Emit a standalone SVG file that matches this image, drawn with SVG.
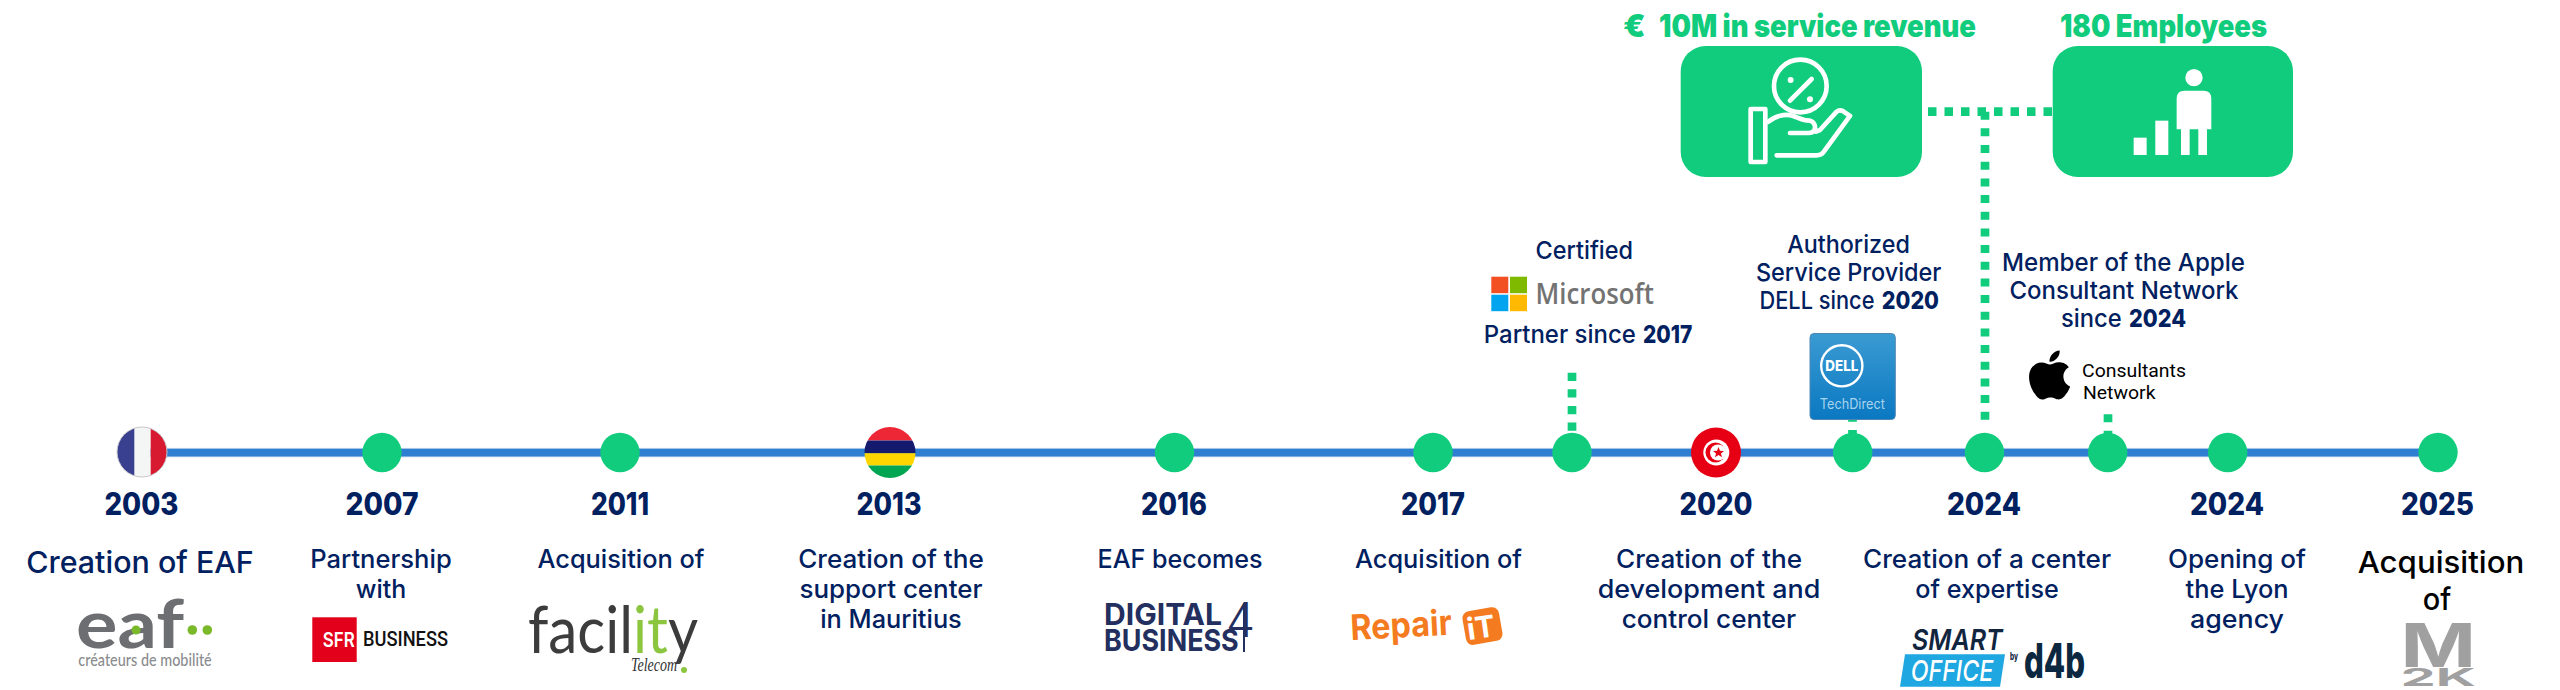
<svg xmlns="http://www.w3.org/2000/svg" width="2560" height="690" viewBox="0 0 2560 690">
<style>
text{font-family:"Inter","Noto Sans","Liberation Sans",sans-serif}
.y{font-size:31px;font-weight:800;fill:#002060;text-anchor:middle}
.d{font-size:25.5px;font-weight:500;fill:#002060;text-anchor:middle}
.s{font-size:24.5px;font-weight:500;fill:#002060}
.b{font-weight:800}
.k{font-size:30px;font-weight:500;fill:#000;text-anchor:middle}
.g{font-size:31px;font-weight:900;fill:#10cc7c}
.dot{fill:#10cc7c}
.dash{fill:none;stroke:#10cc7c;stroke-width:8.7}
.ic{fill:none;stroke:#fff;stroke-width:14;stroke-linecap:round;stroke-linejoin:round}
</style>
<defs>
<clipPath id="cf"><circle cx="142" cy="452" r="25"/></clipPath>
<clipPath id="cm"><circle cx="890" cy="452.5" r="25.5"/></clipPath>
<linearGradient id="dg" x1="0" y1="0" x2="0" y2="1"><stop offset="0" stop-color="#3b9bd2"/><stop offset="1" stop-color="#0a78c2"/></linearGradient>
</defs>
<rect width="2560" height="690" fill="#fff"/>

<g id="connectors">
<rect x="142" y="448.3" width="2296" height="8.6" fill="#2e7fd1" stroke="#bcd3ee" stroke-width="0.8"/>
<path class="dash" stroke-dasharray="8.5 8" d="M1928 111.7H2053"/>
<path class="dash" stroke-dasharray="8 8.67" d="M1985 111.7V420"/>
<path class="dash" stroke-dasharray="8.3 8.3" d="M1572 372.7V434"/>
<path class="dash" stroke-dasharray="8.3 8.3" d="M1852.5 413.4V434"/>
<path class="dash" stroke-dasharray="8 8.5" d="M2108 414.3V434"/>
</g>

<g id="e2003">
<g clip-path="url(#cf)"><rect x="115" y="425" width="20" height="54" fill="#38408f"/><rect x="134.3" y="425" width="16.4" height="54" fill="#f4f5f5"/><rect x="150.7" y="425" width="20" height="54" fill="#d71a30"/></g>
<circle cx="142" cy="452" r="25" fill="none" stroke="#c9c6cb" stroke-width="1"/>
<text class="y" x="141.5" y="514.8" textLength="74" lengthAdjust="spacingAndGlyphs">2003</text>
<text class="d" x="140" y="573" style="font-size:30px" textLength="227.6" lengthAdjust="spacingAndGlyphs">Creation of EAF</text>
<g id="logo-eaf">
<text x="76" y="648" textLength="108" lengthAdjust="spacingAndGlyphs" style="font-size:66px;font-weight:700;fill:#6d6e71;font-family:Lato,sans-serif">eaf</text>
<circle cx="136" cy="630" r="4.5" fill="#7ab929"/><circle cx="192.3" cy="630" r="4.8" fill="#7ab929"/><circle cx="207.3" cy="630" r="4.8" fill="#7ab929"/>
<text x="78.3" y="666" textLength="133.4" lengthAdjust="spacingAndGlyphs" style="font-size:18px;font-weight:500;fill:#8a8c8e;font-family:Lato,sans-serif">créateurs de mobilité</text>
</g>
</g>

<g id="e2007">
<circle class="dot" cx="382" cy="452.5" r="19.7"/>
<text class="y" x="382" y="514.8" textLength="73" lengthAdjust="spacingAndGlyphs">2007</text>
<text class="d" x="381" y="568" textLength="141.5" lengthAdjust="spacingAndGlyphs">Partnership</text>
<text class="d" x="381" y="598" textLength="50.5" lengthAdjust="spacingAndGlyphs">with</text>
<g id="logo-sfr">
<rect x="312.3" y="617.3" width="44.4" height="44.7" fill="#e2001a"/>
<text x="322.7" y="646.7" textLength="32" lengthAdjust="spacingAndGlyphs" style="font-size:20px;font-weight:600;fill:#fff">SFR</text>
<text x="363" y="646" textLength="85" lengthAdjust="spacingAndGlyphs" style="font-size:20px;font-weight:500;fill:#111;font-family:Roboto,sans-serif">BUSINESS</text>
</g>
</g>

<g id="e2011">
<circle class="dot" cx="620" cy="452.5" r="19.7"/>
<text class="y" x="620" y="514.8" textLength="58" lengthAdjust="spacingAndGlyphs">2011</text>
<text class="d" x="621" y="568" textLength="167" lengthAdjust="spacingAndGlyphs">Acquisition of</text>
<g id="logo-facility">
<text x="528" y="653" style="font-size:66px;font-weight:400;fill:#3c3c3c;font-family:Lato,sans-serif"><tspan textLength="170" lengthAdjust="spacingAndGlyphs">faci<tspan>l</tspan><tspan fill="#8cc63f">it</tspan>y</tspan><tspan x="631" dy="18" textLength="46" lengthAdjust="spacingAndGlyphs" style="font-size:18px;font-style:italic;fill:#333;font-family:'Liberation Serif',serif">Telecom</tspan></text>
<circle cx="684" cy="670" r="3" fill="#8cc63f"/>
</g>
</g>

<g id="e2013">
<g clip-path="url(#cm)"><rect x="860" y="425" width="60" height="15.5" fill="#ee2737"/><rect x="860" y="440.5" width="60" height="12.7" fill="#141a6e"/><rect x="860" y="453.2" width="60" height="12.3" fill="#ffd500"/><rect x="860" y="465.5" width="60" height="14" fill="#00a551"/></g>
<text class="y" x="889" y="514.8" textLength="65" lengthAdjust="spacingAndGlyphs">2013</text>
<text class="d" x="891" y="568" textLength="185.6" lengthAdjust="spacingAndGlyphs">Creation of the</text>
<text class="d" x="891" y="598" textLength="183" lengthAdjust="spacingAndGlyphs">support center</text>
<text class="d" x="891" y="628" textLength="141.6" lengthAdjust="spacingAndGlyphs">in Mauritius</text>
</g>

<g id="e2016">
<circle class="dot" cx="1174.5" cy="452.5" r="19.7"/>
<text class="y" x="1174" y="514.8" textLength="66" lengthAdjust="spacingAndGlyphs">2016</text>
<text class="d" x="1180" y="568" textLength="165" lengthAdjust="spacingAndGlyphs">EAF becomes</text>
<g id="logo-d4b" style="fill:#232f5e">
<text x="1104" y="625" textLength="118" lengthAdjust="spacingAndGlyphs" style="font-size:30px;font-weight:700;fill:#232f5e">DIGITAL</text>
<text x="1104" y="651" textLength="134.7" lengthAdjust="spacingAndGlyphs" style="font-size:30px;font-weight:700;fill:#232f5e">BUSINESS</text>
<text x="1226" y="637" textLength="29" lengthAdjust="spacingAndGlyphs" style="font-size:48px;font-weight:300;fill:#232f5e">4</text>
<rect x="1243" y="603" width="2" height="49"/>
</g>
</g>

<g id="e2017">
<circle class="dot" cx="1433" cy="452.5" r="19.7"/>
<text class="y" x="1433" y="514.8" textLength="64" lengthAdjust="spacingAndGlyphs">2017</text>
<text class="d" x="1438.5" y="568" textLength="167" lengthAdjust="spacingAndGlyphs">Acquisition of</text>
<g id="logo-repairit">
<text x="1351" y="640" transform="rotate(-3 1351 640)" textLength="101.6" lengthAdjust="spacingAndGlyphs" style="font-size:35px;font-weight:700;fill:#f47b20">Repair</text>
<rect x="1464" y="609" width="37" height="34" rx="7" transform="rotate(-10 1482.8 626.2)" fill="#f47b20"/>
<text x="1482.5" y="638" transform="rotate(-8 1482.5 638)" text-anchor="middle" style="font-size:30px;font-weight:700;fill:#fff">iT</text>
</g>
</g>

<g id="e-microsoft">
<circle class="dot" cx="1572" cy="452.5" r="19.7"/>
<text class="s" x="1584.3" y="258.8" text-anchor="middle" textLength="97.5" lengthAdjust="spacingAndGlyphs">Certified</text>
<g id="logo-microsoft">
<rect x="1491.3" y="276.7" width="17" height="16.5" fill="#f25022"/><rect x="1510" y="276.7" width="17" height="16.5" fill="#7fba00"/>
<rect x="1491.3" y="294.7" width="17" height="16.5" fill="#00a4ef"/><rect x="1510" y="294.7" width="17" height="16.5" fill="#ffb900"/>
<text x="1535.6" y="304" textLength="118.4" lengthAdjust="spacingAndGlyphs" style="font-size:28px;font-weight:600;fill:#737373;font-family:'Open Sans',sans-serif">Microsoft</text>
</g>
<text class="s" y="343"><tspan x="1483.8" textLength="152" lengthAdjust="spacingAndGlyphs">Partner since</tspan><tspan class="b" x="1643" textLength="49.3" lengthAdjust="spacingAndGlyphs">2017</tspan></text>
</g>

<g id="e2020">
<circle cx="1716" cy="452.5" r="25" fill="#e70013"/>
<circle cx="1716.3" cy="452.5" r="13" fill="#fff"/>
<circle cx="1715.5" cy="452.5" r="10" fill="#e70013"/>
<circle cx="1718" cy="452.5" r="8" fill="#fff"/>
<polygon fill="#e70013" points="1718.5,447 1720,450.7 1724,450.9 1720.9,453.4 1722,457.3 1718.5,455.1 1715,457.3 1716.1,453.4 1713,450.9 1717,450.7"/>
<text class="y" x="1716" y="514.8" textLength="73" lengthAdjust="spacingAndGlyphs">2020</text>
<text class="d" x="1709" y="568" textLength="186" lengthAdjust="spacingAndGlyphs">Creation of the</text>
<text class="d" x="1709" y="598" textLength="222.7" lengthAdjust="spacingAndGlyphs">development and</text>
<text class="d" x="1709" y="628" textLength="174.4" lengthAdjust="spacingAndGlyphs">control center</text>
</g>

<g id="e-dell">
<circle class="dot" cx="1852.7" cy="452.5" r="19.7"/>
<text class="s" x="1848.5" y="253" text-anchor="middle" textLength="122.7" lengthAdjust="spacingAndGlyphs">Authorized</text>
<text class="s" x="1848.7" y="281.3" text-anchor="middle" textLength="185.5" lengthAdjust="spacingAndGlyphs">Service Provider</text>
<text class="s" y="308.8"><tspan x="1759.5" textLength="115" lengthAdjust="spacingAndGlyphs">DELL since</tspan><tspan class="b" x="1881.8" textLength="57.2" lengthAdjust="spacingAndGlyphs">2020</tspan></text>
<g id="logo-dell">
<rect x="1810" y="333.5" width="85.3" height="86" rx="4" fill="url(#dg)" stroke="#4f86b5" stroke-width="1"/>
<circle cx="1841.8" cy="365.8" r="20.6" fill="none" stroke="#fff" stroke-width="2.4"/>
<text x="1841.8" y="371" text-anchor="middle" textLength="33" lengthAdjust="spacingAndGlyphs" style="font-size:14.5px;font-weight:800;fill:#fff">DELL</text>
<text x="1852.3" y="408.5" text-anchor="middle" textLength="65" lengthAdjust="spacingAndGlyphs" style="font-size:14px;fill:#a8d4ee">TechDirect</text>
</g>
</g>

<g id="e2024a">
<circle class="dot" cx="1984.5" cy="452.5" r="19.7"/>
<text class="y" x="1984" y="514.8" textLength="74" lengthAdjust="spacingAndGlyphs">2024</text>
<text class="d" x="1987" y="568" textLength="248" lengthAdjust="spacingAndGlyphs">Creation of a center</text>
<text class="d" x="1987" y="598" textLength="143.6" lengthAdjust="spacingAndGlyphs">of expertise</text>
<g id="logo-smart">
<text x="1912" y="650" textLength="90.7" lengthAdjust="spacingAndGlyphs" style="font-size:29px;font-weight:600;font-style:italic;fill:#12253f">SMART</text>
<polygon points="1905,654.3 2005,654.3 2000,686.7 1900,686.7" fill="#1ea7e1"/>
<text x="1910.7" y="680.7" textLength="82.6" lengthAdjust="spacingAndGlyphs" style="font-size:29px;font-weight:500;font-style:italic;fill:#fff">OFFICE</text>
<text x="2010" y="660" textLength="8" lengthAdjust="spacingAndGlyphs" style="font-size:10px;font-weight:800;fill:#12253f">by</text>
<text x="2024" y="678" textLength="61" lengthAdjust="spacingAndGlyphs" style="font-size:48px;font-weight:800;fill:#0b2840">d4b</text>
</g>
</g>

<g id="e-apple">
<circle class="dot" cx="2107.7" cy="452.5" r="19.7"/>
<text class="s" x="2123.5" y="271.3" text-anchor="middle" textLength="243" lengthAdjust="spacingAndGlyphs">Member of the Apple</text>
<text class="s" x="2124" y="299.3" text-anchor="middle" textLength="229" lengthAdjust="spacingAndGlyphs">Consultant Network</text>
<text class="s" y="327.3"><tspan x="2061" textLength="60.6" lengthAdjust="spacingAndGlyphs">since</tspan><tspan class="b" x="2129" textLength="57" lengthAdjust="spacingAndGlyphs">2024</tspan></text>
<g id="logo-apple">
<path transform="translate(2024.4 350.5) scale(2.1 2.04)" d="M12.152 6.896c-.948 0-2.415-1.078-3.96-1.04-2.04.027-3.91 1.183-4.961 3.014-2.117 3.675-.546 9.103 1.519 12.09 1.013 1.454 2.208 3.09 3.792 3.039 1.52-.065 2.09-.987 3.935-.987 1.831 0 2.35.987 3.96.948 1.637-.026 2.676-1.48 3.676-2.948 1.156-1.688 1.636-3.325 1.662-3.415-.039-.013-3.182-1.221-3.22-4.857-.026-3.04 2.48-4.494 2.597-4.559-1.429-2.09-3.623-2.324-4.39-2.376-2-.156-3.675 1.09-4.61 1.09zM15.53 3.83c.843-1.012 1.4-2.427 1.245-3.83-1.207.052-2.662.805-3.532 1.818-.78.896-1.454 2.338-1.273 3.714 1.338.104 2.715-.688 3.559-1.701"/>
<text x="2082" y="376.5" textLength="104" lengthAdjust="spacingAndGlyphs" style="font-size:19px;fill:#000;font-family:Roboto,sans-serif">Consultants</text>
<text x="2083" y="399" textLength="72.5" lengthAdjust="spacingAndGlyphs" style="font-size:19px;fill:#000;font-family:Roboto,sans-serif">Network</text>
</g>
</g>

<g id="e2024b">
<circle class="dot" cx="2227.7" cy="452.5" r="19.7"/>
<text class="y" x="2227" y="514.8" textLength="74" lengthAdjust="spacingAndGlyphs">2024</text>
<text class="d" x="2237" y="568" textLength="138" lengthAdjust="spacingAndGlyphs">Opening of</text>
<text class="d" x="2237" y="598" textLength="103" lengthAdjust="spacingAndGlyphs">the Lyon</text>
<text class="d" x="2237" y="628" textLength="94" lengthAdjust="spacingAndGlyphs">agency</text>
</g>

<g id="e2025">
<circle class="dot" cx="2438" cy="452.5" r="19.7"/>
<text class="y" x="2437.5" y="514.8" textLength="73" lengthAdjust="spacingAndGlyphs">2025</text>
<text class="k" x="2441" y="573" textLength="166.5" lengthAdjust="spacingAndGlyphs">Acquisition</text>
<text class="k" x="2437" y="609.5" textLength="28.5" lengthAdjust="spacingAndGlyphs">of</text>
<g id="logo-m2k">
<text x="2400.5" y="667" textLength="75.5" lengthAdjust="spacingAndGlyphs" style="font-size:60px;font-weight:700;fill:#a0a0a0">M</text>
<text x="2400.5" y="686" textLength="75.5" lengthAdjust="spacingAndGlyphs" style="font-size:24px;font-weight:700;fill:#a0a0a0">2K</text>
</g>
</g>

<g id="kpi-revenue">
<text class="g" y="36.5"><tspan x="1623" textLength="22.6" lengthAdjust="spacingAndGlyphs">€</tspan><tspan x="1659" textLength="317" lengthAdjust="spacingAndGlyphs">10M in service revenue</tspan></text>
<rect x="1680.7" y="46" width="241.3" height="131" rx="25" fill="#10cc7c"/>
<g transform="translate(1660 30) scale(0.3333)">
<circle class="ic" cx="421" cy="168" r="79"/>
<path class="ic" d="M390 212L455 147"/>
<circle cx="392" cy="150" r="9" fill="#fff"/><circle cx="450" cy="208" r="9" fill="#fff"/>
<rect class="ic" x="272" y="237" width="44" height="159"/>
<path class="ic" d="M325 275C345 258 375 250 400 258C425 268 430 272 450 272C463 275 468 290 463 300C460 308 455 309 445 309H390"/>
<path class="ic" d="M468 305L480 300L530 245C538 238 545 241 550 244L570 258L490 367C485 375 478 376 470 376H350"/>
</g>
</g>

<g id="kpi-employees">
<text class="g" x="2060" y="36.5" textLength="207" lengthAdjust="spacingAndGlyphs">180 Employees</text>
<rect x="2052.7" y="46" width="240.3" height="131" rx="25" fill="#10cc7c"/>
<g transform="translate(2040 30) scale(0.3333)" fill="#fff">
<circle cx="462" cy="143" r="26"/>
<path d="M410 298V205Q410 182 433 182H491Q514 182 514 205V298H501V375H475V298H449V375H423V298Z"/>
<rect x="281" y="323" width="39" height="52"/>
<rect x="346" y="272" width="39" height="103"/>
</g>
</g>
</svg>
